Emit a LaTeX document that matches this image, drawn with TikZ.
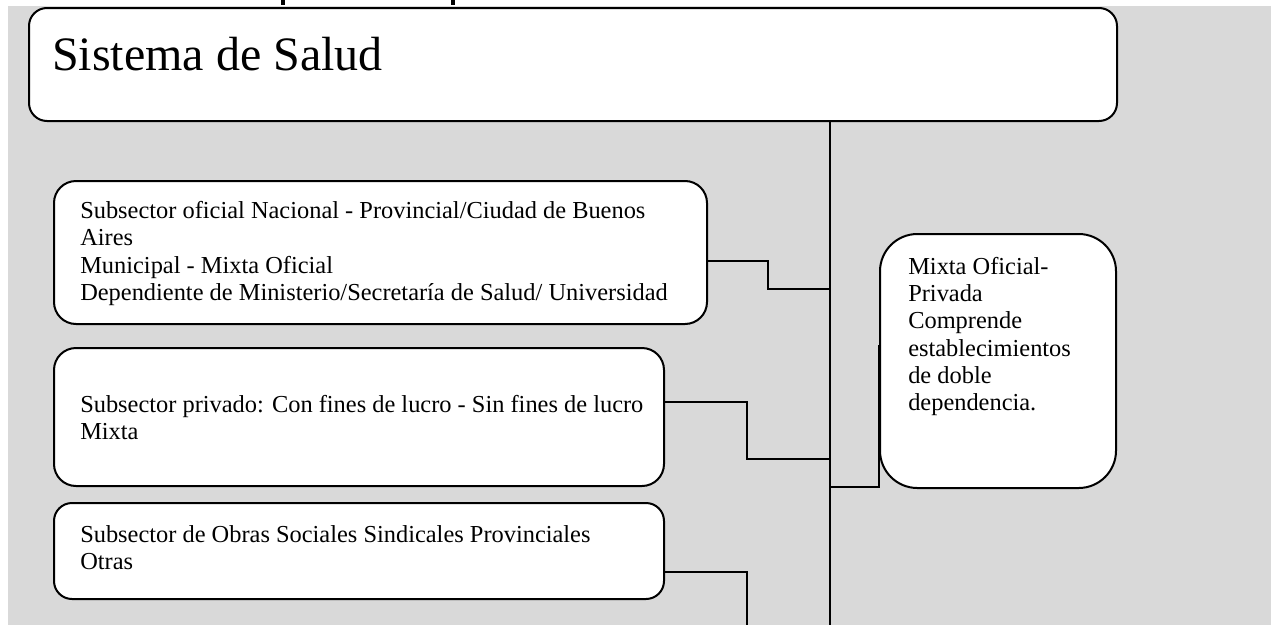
\documentclass[tikz,border=0pt]{standalone}
\usepackage{fontspec}
\setmainfont{Liberation Serif}
\definecolor{bg}{HTML}{D9D9D9}
\newcommand{\boxtext}[1]{\parbox[t]{25cm}{\raggedright\fontsize{18.3pt}{20.5pt}\selectfont #1}}
\tikzset{
  panel/.style={draw=black, line width=1.5pt, fill=white, inner sep=0pt, anchor=north west},
  conn/.style={draw=black, line width=1.5pt},
  txt/.style={anchor=base west, inner sep=0pt, text=black}
}
\begin{document}
\begin{tikzpicture}[x=0.75pt, y=-0.75pt]
\useasboundingbox (0,0) rectangle (1271,625);
\fill[bg] (8,6) rectangle (1271,625);
% cut-off fragments at top edge
\fill[black] (281,0) rectangle (285,5);
\fill[black] (451,0) rectangle (455,5);

% main box
\node[panel, rounded corners=13.5pt, minimum width=816pt, minimum height=84.75pt] (top) at (28,7) {};
\node[txt, font=\fontsize{36pt}{40pt}\selectfont] (ttop) at (52,70) {Sistema de Salud};

% box 1
\node[panel, rounded corners=16.5pt, minimum width=489.75pt, minimum height=107.25pt] (b1) at (53,180) {};
\node[txt] (t1) at (80,218.5) {\boxtext{Subsector oficial Nacional - Provincial/Ciudad de Buenos\\Aires\\Municipal - Mixta Oficial\\Dependiente de Ministerio/Secretaría de Salud/ Universidad}};

% box 2
\node[panel, rounded corners=16.5pt, minimum width=457.5pt, minimum height=103.5pt] (b2) at (53,347) {};
\node[txt] (t2) at (80,412) {\boxtext{Subsector privado: Con fines de lucro - Sin fines de lucro\\Mixta}};

% box 3
\node[panel, rounded corners=13.5pt, minimum width=457.5pt, minimum height=72pt] (b3) at (53,502) {};
\node[txt] (t3) at (80,542) {\boxtext{Subsector de Obras Sociales Sindicales Provinciales\\Otras}};

% right box
\node[panel, rounded corners=28pt, minimum width=177pt, minimum height=190.5pt] (rb) at (879,233) {};
\node[txt] (trb) at (908,274.3) {\boxtext{Mixta Oficial-\\Privada\\Comprende\\establecimientos\\de doble\\dependencia.}};

% trunk
\coordinate (trunkend) at (830,625);
\draw[conn] (top.south -| trunkend) -- (trunkend);

% connectors
\coordinate (j1) at (830,289);
\draw[conn] (b1.east |- 0,261) -- (768,261) -- (768,289) -- (j1);
\coordinate (j2) at (830,459);
\draw[conn] (b2.east |- 0,402) -- (747,402) -- (747,459) -- (j2);
\coordinate (j3) at (747,625);
\draw[conn] (b3.east |- 0,572) -- (747,572) -- (j3);
\coordinate (j4) at (830,487);
\draw[conn] (j4) -- (879,487) -- (rb.west |- 0,345);
\end{tikzpicture}
\end{document}
